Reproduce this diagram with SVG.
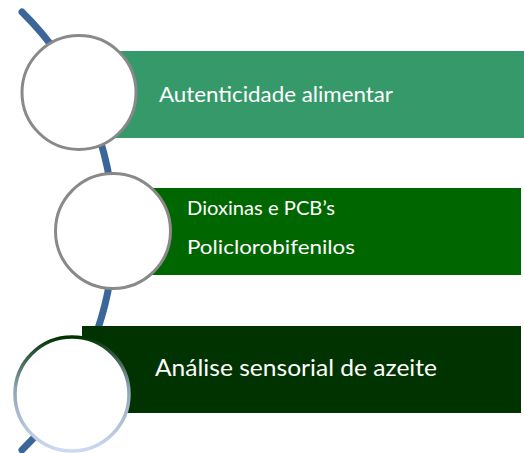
<svg xmlns="http://www.w3.org/2000/svg" width="524" height="453" viewBox="0 0 524 453">
  <style>
    .lbl { font-family: Lato, "Open Sans", "DejaVu Sans", sans-serif; fill: #ffffff; }
    .ring { fill: #ffffff; stroke: #898989; stroke-width: 3; }
  </style>
  <defs>
    <linearGradient id="ring3" x1="0" y1="0" x2="0" y2="1">
      <stop offset="0" stop-color="#003300"/>
      <stop offset="0.45" stop-color="#8fa3b5"/>
      <stop offset="1" stop-color="#cdd9ef"/>
    </linearGradient>
  </defs>
  <rect width="524" height="453" fill="#ffffff"/>
  <g id="connectors">
    <path d="M 22 12 A 307 307 0 0 1 22 450" fill="none" stroke="#3b6699" stroke-width="7" stroke-linecap="round"/>
  </g>
  <g id="node1">
    <rect x="79" y="51" width="445" height="87" fill="#36996a"/>
    <circle class="ring" cx="79" cy="92.5" r="57"/>
    <text class="lbl" x="159" y="102" font-size="22" textLength="234" lengthAdjust="spacingAndGlyphs">Autenticidade alimentar</text>
  </g>
  <g id="node2">
    <rect x="113" y="188" width="408" height="87" fill="#006600"/>
    <circle class="ring" cx="113" cy="231" r="57.5"/>
    <text class="lbl" x="187" y="215" font-size="20" textLength="148" lengthAdjust="spacingAndGlyphs">Dioxinas e PCB’s</text>
    <text class="lbl" x="187" y="254" font-size="20" textLength="168" lengthAdjust="spacingAndGlyphs">Policlorobifenilos</text>
  </g>
  <g id="node3">
    <rect x="82" y="326" width="439" height="87" fill="#003300"/>
    <circle cx="72" cy="394" r="57" fill="#ffffff" stroke="url(#ring3)" stroke-width="3.5"/>
    <text class="lbl" x="155" y="376" font-size="24" textLength="282" lengthAdjust="spacingAndGlyphs">Análise sensorial de azeite</text>
  </g>
</svg>
